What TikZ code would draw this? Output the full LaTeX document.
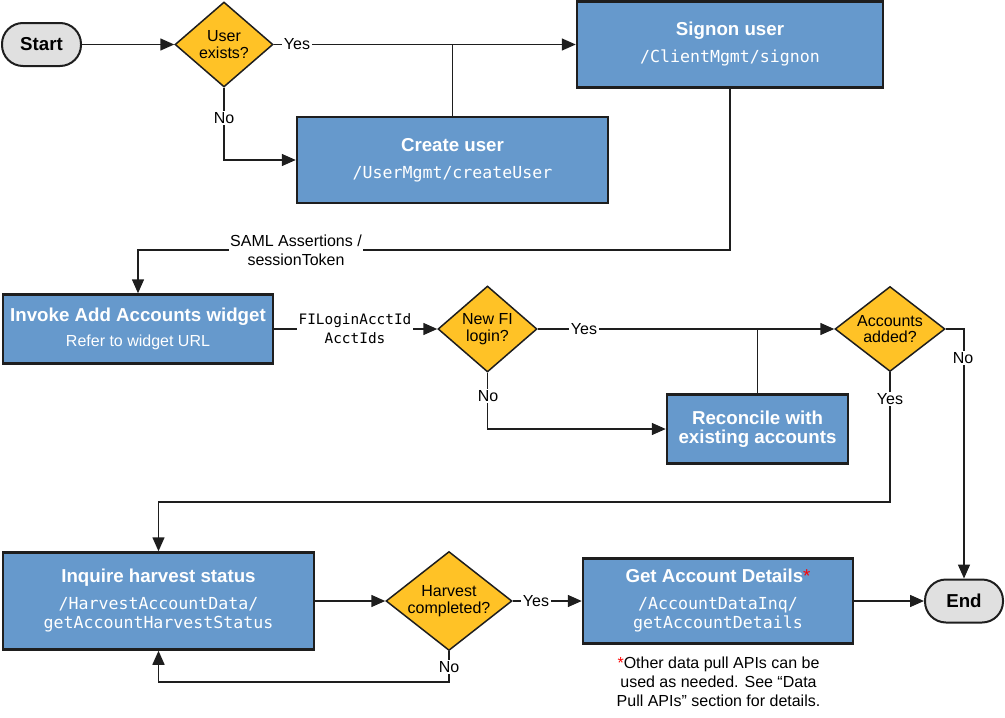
\documentclass[tikz,border=0pt]{standalone}
\usepackage{fontspec}
\setmainfont{Liberation Sans}
\newfontfamily\codefont{DejaVu Sans Mono}
\usepackage{tikz}
\usetikzlibrary{arrows.meta,shapes.geometric}
\usepackage{xcolor}
\definecolor{boxblue}{RGB}{102,153,204}
\definecolor{askyellow}{RGB}{255,194,38}
\definecolor{termgray}{RGB}{224,224,224}
\definecolor{edgegray}{RGB}{30,30,30}

\newcommand{\ttl}[1]{{\bfseries\fontsize{18.7}{19}\selectfont #1}}
\newcommand{\api}[1]{{\codefont\fontsize{16.6}{19}\selectfont #1}}

\begin{document}
\begin{tikzpicture}[x=1pt,y=-1pt,
    proc/.style={draw=edgegray,line width=2.5pt,fill=boxblue,text=white,align=center,
        inner sep=0pt,font=\fontsize{16.6}{19}\selectfont},
    ask/.style={diamond,draw=edgegray,line width=1.5pt,fill=askyellow,align=center,
        inner sep=0pt,font=\fontsize{16}{16.5}\selectfont},
    term/.style={draw=edgegray,line width=2pt,fill=termgray,rounded corners=21pt,
        inner sep=0pt,font=\bfseries\fontsize{18.7}{19}\selectfont},
    flow/.style={line width=1.5pt,edgegray},
    arr/.style={flow,-{Triangle[length=14pt,width=12pt]}},
    lbl/.style={fill=white,inner sep=1.5pt,font=\fontsize{16}{19}\selectfont,align=center}]
    \useasboundingbox (0,0) rectangle (1005,718);

    % row 1
    \node[term,minimum width=79pt,minimum height=43pt] (start) at (41.5,44.5) {Start};
    \node[ask,shape aspect=1.15,minimum width=98pt,minimum height=85pt] (userq) at (224,44.5) {User\\exists?};
    \node[proc,minimum width=306pt,minimum height=86pt] (signon) at (730,44.5)
        {\ttl{Signon user}\\[8pt]\api{/ClientMgmt/signon}};
    \node[proc,minimum width=311pt,minimum height=86pt] (create) at (452.5,160)
        {\ttl{Create user}\\[8pt]\api{/UserMgmt/createUser}};

    % row 2
    \node[proc,minimum width=270pt,minimum height=69pt] (invoke) at (138,329)
        {\ttl{Invoke Add Accounts widget}\\[6pt]{\fontsize{16}{19}\selectfont Refer to widget URL}};
    \node[ask,shape aspect=1.15,minimum width=99pt,minimum height=86pt] (fiq) at (487.5,329) {New FI\\login?};
    \node[proc,minimum width=181pt,minimum height=69pt] (recon) at (757.5,429)
        {\ttl{Reconcile with}\\\ttl{existing accounts}};
    \node[ask,shape aspect=1.29,minimum width=110pt,minimum height=85pt] (addq) at (890,329) {Accounts\\added?};

    % row 3
    \node[proc,minimum width=311pt,minimum height=97pt] (inquire) at (158.5,601)
        {\ttl{Inquire harvest status}\\[8pt]\api{/HarvestAccountData/}\\\api{getAccountHarvestStatus}};
    \node[ask,shape aspect=1.27,minimum width=126pt,minimum height=99pt] (harvq) at (449,601) {Harvest\\completed?};
    \node[proc,minimum width=270pt,minimum height=85pt] (details) at (718,601)
        {\ttl{Get Account Details{\color{red}\mdseries*}}\\[8pt]\api{/AccountDataInq/}\\\api{getAccountDetails}};
    \node[term,minimum width=78pt,minimum height=43pt] (end) at (964,601) {End};
    \node[align=center,inner sep=0pt,font=\fontsize{16}{19}\selectfont] (note) at (718.5,682)
        {{\color{red}*}Other data pull APIs can be\\used as needed. See “Data\\Pull APIs” section for details.};

    % connectors
    \draw[arr] (start) -- (userq);
    \draw[arr] (userq.east) -- (signon.west);
    \draw[flow] (create.north) -- (create.north |- signon.west);
    \draw[arr] (userq.south) |- (create.west);
    \coordinate (tokturn) at (138,250);
    \draw[arr] (signon.south) |- (tokturn) -- (invoke.north);
    \draw[arr] (invoke) -- (fiq);
    \draw[arr] (fiq.east) -- (addq.west);
    \draw[flow] (recon.north) -- (recon.north |- addq.west);
    \draw[arr] (fiq.south) |- (recon.west);
    \coordinate (backrow) at (0,502);
    \draw[arr] (addq.south) -- (addq.south |- backrow) -| (inquire.north);
    \draw[arr] (addq.east) -| (end.north);
    \draw[arr] (inquire) -- (harvq);
    \draw[arr] (harvq.east) -- (details.west);
    \coordinate (loopback) at (0,682);
    \draw[arr] (harvq.south) -- (harvq.south |- loopback) -| (inquire.south);
    \draw[arr] (details) -- (end);

    % labels on the lines
    \node[lbl] (yes1) at (297,44) {Yes};
    \node[lbl] (no1) at (224,118) {No};
    \node[lbl] (token) at (296,250) {SAML Assertions /\\sessionToken};
    \node[lbl,font=\codefont\fontsize{14.4}{19}\selectfont] (ids) at (355,329) {FILoginAcctId\\AcctIds};
    \node[lbl] (yes2) at (584,329) {Yes};
    \node[lbl] (no2) at (488,396) {No};
    \node[lbl] (yes3) at (890,399) {Yes};
    \node[lbl] (no3) at (963,358) {No};
    \node[lbl] (yes4) at (536,601) {Yes};
    \node[lbl] (no4) at (449,667) {No};
\end{tikzpicture}
\end{document}
